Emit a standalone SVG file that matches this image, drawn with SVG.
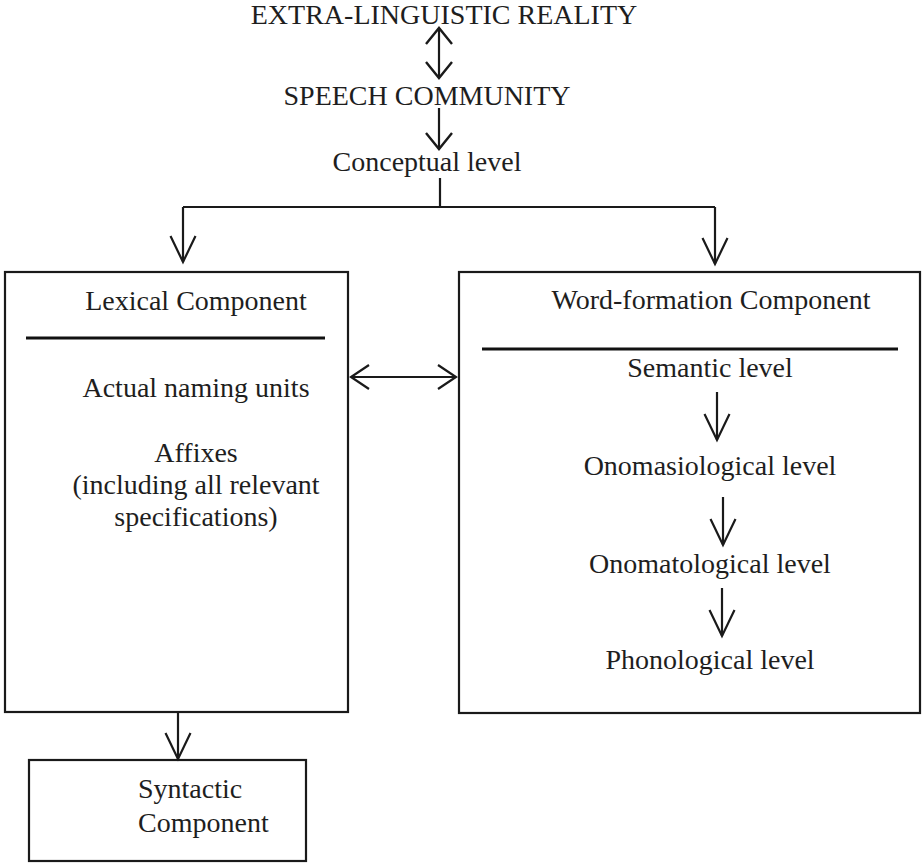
<svg xmlns="http://www.w3.org/2000/svg" width="922" height="863" viewBox="0 0 922 863">
<style>
text{font-family:'Liberation Serif',Tinos,'Times New Roman',Times,'Nimbus Roman','DejaVu Serif',serif;font-size:28px;fill:#1e1e1e;}
.box{fill:none;stroke:#1a1a1a;stroke-width:2.2;}
.sep{stroke:#111;stroke-width:3.2;}
.ln{fill:none;stroke:#1a1a1a;stroke-width:2.2;}
</style>
<defs>
<marker id="hs" markerUnits="userSpaceOnUse" markerWidth="40" markerHeight="40" orient="auto-start-reverse" refX="0" refY="0" viewBox="-30 -20 40 40" overflow="visible">
<path d="M-16,-13 L0,0 L-16,13" fill="none" stroke="#1a1a1a" stroke-width="2.4"/>
</marker>
<marker id="hh" markerUnits="userSpaceOnUse" markerWidth="40" markerHeight="40" orient="auto-start-reverse" refX="0" refY="0" viewBox="-30 -20 40 40" overflow="visible">
<path d="M-18,-12 L0,0 L-18,12" fill="none" stroke="#1a1a1a" stroke-width="2.2"/>
</marker>
<marker id="hl" markerUnits="userSpaceOnUse" markerWidth="40" markerHeight="40" orient="auto-start-reverse" refX="0" refY="0" viewBox="-30 -20 40 40" overflow="visible">
<path d="M-26,-12.5 L0,0 L-26,12.5" fill="none" stroke="#1a1a1a" stroke-width="2.2"/>
</marker>
</defs>

<g id="extra-linguistic">
<text x="444" y="24" text-anchor="middle">EXTRA-LINGUISTIC REALITY</text>
</g>
<g id="speech-community">
<text x="427" y="105" text-anchor="middle">SPEECH COMMUNITY</text>
</g>
<g id="conceptual">
<text x="427" y="171" text-anchor="middle">Conceptual level</text>
</g>

<g id="lexical">
<rect class="box" x="5" y="272" width="343" height="440"/>
<text x="196" y="310" text-anchor="middle">Lexical Component</text>
<line class="sep" x1="26" y1="338" x2="325" y2="338"/>
<text x="196" y="397" text-anchor="middle">Actual naming units</text>
<text x="196" y="462" text-anchor="middle">Affixes</text>
<text x="196" y="494" text-anchor="middle">(including all relevant</text>
<text x="196" y="526" text-anchor="middle">specifications)</text>
</g>

<g id="word-formation">
<rect class="box" x="459" y="272" width="461" height="441"/>
<text x="711" y="309" text-anchor="middle">Word-formation Component</text>
<line class="sep" x1="482" y1="349" x2="898" y2="349"/>
<text x="710" y="377" text-anchor="middle">Semantic level</text>
<text x="710" y="475" text-anchor="middle">Onomasiological level</text>
<text x="710" y="573" text-anchor="middle">Onomatological level</text>
<text x="710" y="669" text-anchor="middle">Phonological level</text>
</g>

<g id="syntactic">
<rect class="box" x="29" y="760" width="277" height="101"/>
<text x="138" y="798">Syntactic</text>
<text x="138" y="832">Component</text>
</g>

<g id="connectors">
<line class="ln" x1="439" y1="28" x2="439" y2="78" marker-start="url(#hs)" marker-end="url(#hs)"/>
<line class="ln" x1="439" y1="108" x2="439" y2="149" marker-end="url(#hs)"/>
<path class="ln" d="M440,178 V207 M183,207 H715"/>
<line class="ln" x1="183" y1="207" x2="183" y2="262" marker-end="url(#hl)"/>
<line class="ln" x1="715" y1="207" x2="715" y2="264" marker-end="url(#hl)"/>
<line class="ln" x1="351" y1="377" x2="456" y2="377" marker-start="url(#hh)" marker-end="url(#hh)"/>
<line class="ln" x1="717" y1="392" x2="717" y2="440" marker-end="url(#hl)"/>
<line class="ln" x1="723" y1="497" x2="723" y2="545" marker-end="url(#hl)"/>
<line class="ln" x1="722" y1="588" x2="722" y2="636" marker-end="url(#hl)"/>
<line class="ln" x1="178" y1="712" x2="178" y2="759" marker-end="url(#hl)"/>
</g>
</svg>
